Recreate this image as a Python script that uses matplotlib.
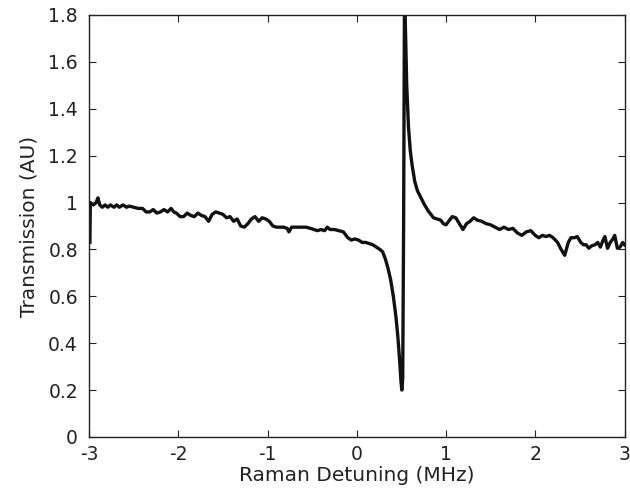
import matplotlib
matplotlib.use("Agg")
import matplotlib.pyplot as plt

detuning_mhz = [
    -2.99, -2.985, -2.95, -2.92, -2.90, -2.88, -2.85, -2.82, -2.79, -2.76,
    -2.72, -2.69, -2.66, -2.62, -2.58, -2.55, -2.50, -2.45, -2.40, -2.36,
    -2.32, -2.28, -2.24, -2.20, -2.16, -2.12, -2.08, -2.05, -2.02, -1.98,
    -1.94, -1.90, -1.86, -1.82, -1.78, -1.74, -1.70, -1.66, -1.62, -1.58,
    -1.54, -1.50, -1.46, -1.42, -1.38, -1.34, -1.30, -1.26, -1.22, -1.18,
    -1.14, -1.10, -1.06, -1.02, -0.98, -0.94, -0.90, -0.86, -0.82, -0.78,
    -0.76, -0.73, -0.68, -0.62, -0.57, -0.52, -0.48, -0.44, -0.40, -0.36,
    -0.33, -0.30, -0.25, -0.20, -0.15, -0.10, -0.06, -0.02, 0.02, 0.06,
    0.10, 0.14, 0.18, 0.22, 0.26, 0.29, 0.32, 0.35, 0.38, 0.41,
    0.44, 0.46, 0.48, 0.495, 0.505, 0.515, 0.525, 0.535, 0.545, 0.56,
    0.58, 0.60, 0.62, 0.65, 0.68, 0.72, 0.76, 0.80, 0.83, 0.86,
    0.90, 0.94, 0.97, 1.00, 1.03, 1.07, 1.11, 1.15, 1.19, 1.23,
    1.27, 1.31, 1.35, 1.40, 1.45, 1.50, 1.55, 1.60, 1.65, 1.70,
    1.75, 1.80, 1.85, 1.90, 1.95, 2.00, 2.04, 2.08, 2.12, 2.16,
    2.20, 2.25, 2.29, 2.33, 2.37, 2.40, 2.44, 2.47, 2.51, 2.54,
    2.57, 2.60, 2.63, 2.67, 2.70, 2.73, 2.76, 2.78, 2.81, 2.84,
    2.87, 2.89, 2.92, 2.95, 2.98, 3.00,
]
transmission_au = [
    0.83, 1.00, 0.99, 1.00, 1.02, 0.99, 0.98, 0.99, 0.98, 0.99,
    0.98, 0.99, 0.98, 0.99, 0.98, 0.985, 0.98, 0.975, 0.975, 0.96,
    0.96, 0.97, 0.955, 0.96, 0.97, 0.96, 0.975, 0.96, 0.955, 0.94,
    0.94, 0.955, 0.945, 0.94, 0.955, 0.945, 0.94, 0.92, 0.95, 0.96,
    0.955, 0.95, 0.935, 0.94, 0.92, 0.93, 0.90, 0.895, 0.91, 0.93,
    0.94, 0.92, 0.935, 0.93, 0.92, 0.90, 0.895, 0.895, 0.895, 0.89,
    0.875, 0.895, 0.895, 0.895, 0.895, 0.89, 0.885, 0.88, 0.885, 0.88,
    0.895, 0.885, 0.885, 0.88, 0.875, 0.85, 0.84, 0.845, 0.84, 0.83,
    0.83, 0.825, 0.82, 0.81, 0.80, 0.79, 0.76, 0.72, 0.67, 0.60,
    0.51, 0.43, 0.33, 0.24, 0.20, 0.25, 0.90, 1.90, 1.75, 1.50,
    1.32, 1.22, 1.16, 1.09, 1.05, 1.02, 0.99, 0.965, 0.95, 0.935,
    0.93, 0.925, 0.91, 0.905, 0.92, 0.94, 0.935, 0.91, 0.885, 0.91,
    0.92, 0.935, 0.925, 0.92, 0.91, 0.905, 0.895, 0.885, 0.895, 0.885,
    0.89, 0.87, 0.86, 0.875, 0.88, 0.86, 0.85, 0.86, 0.855, 0.86,
    0.85, 0.83, 0.80, 0.775, 0.83, 0.85, 0.85, 0.855, 0.83, 0.82,
    0.82, 0.805, 0.815, 0.82, 0.83, 0.81, 0.84, 0.855, 0.805, 0.83,
    0.845, 0.86, 0.805, 0.81, 0.83, 0.82,
]

x_ticks = [-3, -2, -1, 0, 1, 2, 3]
x_tick_labels = ["-3", "-2", "-1", "0", "1", "2", "3"]
y_ticks = [0, 0.2, 0.4, 0.6, 0.8, 1.0, 1.2, 1.4, 1.6, 1.8]
y_tick_labels = ["0", "0.2", "0.4", "0.6", "0.8", "1", "1.2", "1.4", "1.6", "1.8"]

plt.rcParams['font.family'] = ['DejaVu Sans']

fig = plt.figure(figsize=(6.3, 4.93), dpi=100)
ax = fig.add_axes([89 / 630, 56 / 493, (624.5 - 89) / 630, (437 - 15) / 493])

ax.plot(detuning_mhz, transmission_au, color="#111111", linewidth=2.4,
        solid_joinstyle="round")

ax.set_xlim(-3, 3)
ax.set_ylim(0, 1.8)
ax.set_xticks(x_ticks)
ax.set_xticklabels(x_tick_labels)
ax.set_yticks(y_ticks)
ax.set_yticklabels(y_tick_labels)

ax.tick_params(direction="in", length=5, width=0.8, top=True, right=True,
               labelsize=13.5, colors="#222222")
ax.tick_params(axis="x", pad=6)
ax.tick_params(axis="y", pad=8)
for s in ax.spines.values():
    s.set_linewidth(1.0)
    s.set_color("#222222")

ax.set_xlabel("Raman Detuning (MHz)", fontsize=14.5, color="#222222", labelpad=1)
ax.set_ylabel("Transmission (AU)", fontsize=14.5, color="#222222", labelpad=7)

fig.savefig("out.png", dpi=100)
